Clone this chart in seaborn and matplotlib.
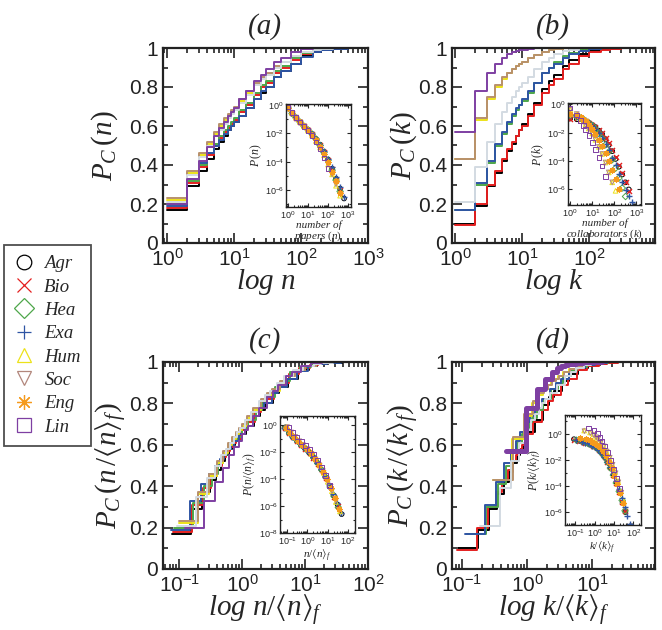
import numpy as np
import matplotlib
matplotlib.use("Agg")
import matplotlib.pyplot as plt
import matplotlib.ticker as mticker
from matplotlib.lines import Line2D
import seaborn as sns

sns.set_style("ticks")
plt.rcParams["font.family"] = ["Liberation Sans", "DejaVu Sans"]
plt.rcParams["mathtext.fontset"] = "custom"
plt.rcParams["mathtext.rm"] = "Liberation Serif"
plt.rcParams["mathtext.it"] = "Liberation Serif:italic"
plt.rcParams["mathtext.bf"] = "Liberation Serif:bold"
plt.rcParams["mathtext.fallback"] = "stix"

# fields of knowledge
fields = ["Agr", "Bio", "Hea", "Exa", "Hum", "Soc", "Eng", "Lin"]

# mean number of papers / collaborators per field (used for rescaled panels)
mean_papers = [13, 12.5, 12, 13.5, 10, 10, 11, 8]
mean_collab = [11.5, 12, 8.5, 9, 3.4, 3.3, 5.3, 2.1]

# cumulative distributions, evaluated on this grid of n (or k)
grid = [1, 2, 3, 4, 5, 6, 7, 8, 9, 10, 12, 15, 20, 25, 30, 40, 50, 70, 100, 150, 200, 300, 500]

# (a) P_C(n), number of papers
pcn_agr = [.17, .29, .37, .43, .48, .52, .55, .58, .60, .62, .65, .69, .74, .77, .80, .85, .88, .92, .96, .98, .99, .997, 1]
pcn_bio = [.18, .31, .39, .45, .50, .54, .57, .59, .61, .63, .67, .71, .76, .80, .82, .87, .90, .94, .97, .985, .993, .998, 1]
pcn_hea = [.20, .32, .40, .46, .51, .55, .58, .60, .62, .64, .68, .72, .77, .81, .83, .88, .91, .95, .975, .99, .995, 1]
pcn_exa = [.19, .33, .41, .46, .50, .53, .56, .58, .60, .62, .65, .69, .74, .78, .80, .85, .88, .92, .955, .98, .99, .997, 1]
pcn_hum = [.22, .36, .45, .51, .56, .60, .63, .65, .67, .69, .73, .77, .81, .84, .86, .90, .93, .96, .98, .993, 1]
pcn_soc = [.23, .37, .46, .52, .57, .61, .64, .66, .68, .70, .74, .78, .82, .85, .87, .91, .93, .96, .98, .993, .998, 1]
pcn_eng = [.21, .35, .44, .50, .55, .58, .61, .64, .66, .68, .72, .76, .81, .84, .86, .90, .93, .96, .98, .99, .997, 1]
pcn_lin = [.20, .33, .42, .49, .55, .59, .62, .65, .67, .69, .74, .78, .83, .86, .89, .93, .95, .98, .995, 1]

# (b) P_C(k), number of collaborators
pck_agr = [.10, .19, .29, .36, .42, .47, .51, .55, .58, .61, .66, .72, .79, .83, .86, .91, .94, .97, .985, .995, .998, 1]
pck_bio = [.09, .20, .30, .37, .43, .48, .52, .55, .58, .60, .65, .71, .77, .81, .84, .89, .92, .96, .98, .99, .995, .999, 1]
pck_hea = [.17, .30, .41, .50, .56, .61, .65, .68, .71, .73, .77, .82, .87, .90, .93, .96, .975, .99, .996, 1]
pck_exa = [.17, .31, .42, .51, .57, .62, .66, .69, .71, .74, .78, .82, .87, .90, .92, .95, .97, .985, .993, .998, 1]
pck_hum = [.43, .63, .74, .80, .84, .87, .89, .91, .92, .93, .95, .965, .98, .99, .995, 1]
pck_soc = [.43, .64, .75, .81, .85, .87, .89, .91, .92, .93, .95, .965, .98, .99, .995, 1]
pck_eng = [.21, .39, .52, .61, .67, .72, .75, .78, .80, .82, .85, .89, .93, .95, .97, .985, .99, 1]
pck_lin = [.57, .78, .87, .92, .95, .97, .98, .985, .99, .99, .995, .998, .999, .9995, 1]

# inset (a)/(c): log10 P(n) on log bins of n
n_bins = [1, 1.6, 2.5, 4, 6.3, 10, 16, 25, 40, 63, 100, 160, 250, 400, 630]
pn_agr = [-0.2, -0.6, -0.9, -1.2, -1.5, -1.75, -2.05, -2.4, -2.8, -3.3, -3.85, -4.5, -5.2, -5.9, -6.6]
pn_bio = [-0.2, -0.6, -0.9, -1.2, -1.5, -1.75, -2.05, -2.45, -2.85, -3.35, -3.9, -4.55, -5.3, -6.0]
pn_hea = [-0.2, -0.6, -0.9, -1.2, -1.5, -1.75, -2.05, -2.4, -2.85, -3.35, -3.9, -4.6, -5.3, -6.1]
pn_exa = [-0.2, -0.6, -0.9, -1.2, -1.5, -1.75, -2.05, -2.4, -2.8, -3.25, -3.8, -4.4, -5.1, -5.8, -6.5]
pn_hum = [-0.15, -0.55, -0.88, -1.2, -1.5, -1.8, -2.15, -2.55, -3.0, -3.55, -4.2, -4.9, -5.7, -6.4]
pn_soc = [-0.15, -0.55, -0.88, -1.2, -1.5, -1.8, -2.15, -2.55, -3.0, -3.55, -4.2, -4.9, -5.6]
pn_eng = [-0.2, -0.6, -0.9, -1.2, -1.5, -1.78, -2.1, -2.5, -2.95, -3.45, -4.0, -4.7, -5.4, -6.2]
pn_lin = [-0.15, -0.55, -0.88, -1.2, -1.5, -1.8, -2.15, -2.6, -3.1, -3.75, -4.5]

# inset (b): log10 P(k) on log bins of k
k_bins = [1, 2, 3, 4, 5, 7, 10, 14, 20, 28, 40, 56, 80, 113, 160, 226, 320, 450, 640]
pk_agr = [-1.0, -1.05, -1.0, -1.15, -1.2, -1.3, -1.45, -1.6, -1.85, -2.1, -2.45, -2.85, -3.3, -3.85, -4.4, -4.95, -5.5, -6.0]
pk_bio = [-1.05, -0.95, -1.0, -1.15, -1.2, -1.3, -1.45, -1.6, -1.8, -2.05, -2.35, -2.75, -3.2, -3.7, -4.25, -4.85, -5.45, -6.1]
pk_hea = [-0.77, -0.89, -0.96, -1.05, -1.15, -1.3, -1.5, -1.75, -2.05, -2.4, -2.85, -3.35, -3.9, -4.5, -5.2, -5.9, -6.5]
pk_exa = [-0.77, -0.85, -0.96, -1.05, -1.15, -1.3, -1.5, -1.75, -2.05, -2.4, -2.8, -3.25, -3.75, -4.3, -4.9, -5.5, -6.05, -6.5, -6.9]
pk_hum = [-0.37, -0.7, -1.0, -1.2, -1.4, -1.7, -2.05, -2.5, -3.0, -3.5, -4.1, -4.8, -5.5, -6.1]
pk_soc = [-0.37, -0.68, -0.96, -1.22, -1.45, -1.75, -2.1, -2.5, -3.0, -3.5, -4.1, -4.8, -5.5]
pk_eng = [-0.67, -0.75, -0.9, -1.05, -1.2, -1.45, -1.75, -2.1, -2.5, -2.95, -3.45, -4.0, -4.6, -5.3, -6.0]
pk_lin = [-0.24, -0.75, -1.15, -1.5, -1.75, -2.2, -2.7, -3.2, -3.75, -4.35, -5.1]

# inset (d): log10 P(k/<k>) on the same k bins
pkd_agr = [-0.37, -0.5, -0.57, -0.63, -0.68, -0.76, -0.88, -1.02, -1.2, -1.45, -1.75, -2.1, -2.6, -3.2, -3.85, -4.5, -5.3, -6.0]
pkd_bio = [-0.4, -0.5, -0.57, -0.63, -0.68, -0.76, -0.88, -1.0, -1.18, -1.42, -1.72, -2.1, -2.55, -3.1, -3.75, -4.45, -5.2, -5.9]
pkd_hea = [-0.45, -0.55, -0.63, -0.7, -0.77, -0.88, -1.0, -1.2, -1.45, -1.75, -2.15, -2.6, -3.15, -3.75, -4.4, -5.1, -5.9]
pkd_exa = [-0.45, -0.55, -0.63, -0.7, -0.77, -0.88, -1.0, -1.2, -1.45, -1.72, -2.1, -2.55, -3.05, -3.6, -4.2, -4.9, -5.6, -6.3, -6.9]
pkd_hum = [0.3, 0.15, 0.0, -0.2, -0.35, -0.6, -0.9, -1.3, -1.75, -2.3, -2.9, -3.6, -4.4, -5.2]
pkd_soc = [0.25, 0.1, -0.05, -0.22, -0.38, -0.62, -0.92, -1.32, -1.8, -2.35, -3.0, -3.7, -4.5]
pkd_eng = [-0.3, -0.35, -0.45, -0.55, -0.65, -0.8, -1.0, -1.3, -1.65, -2.1, -2.6, -3.2, -3.85, -4.55, -5.3]
pkd_lin = [0.5, 0.3, 0.05, -0.25, -0.5, -0.9, -1.4, -2.0, -2.7, -3.4, -4.2]

pcn = dict(zip(fields, [pcn_agr, pcn_bio, pcn_hea, pcn_exa, pcn_hum, pcn_soc, pcn_eng, pcn_lin]))
pck = dict(zip(fields, [pck_agr, pck_bio, pck_hea, pck_exa, pck_hum, pck_soc, pck_eng, pck_lin]))
pn = dict(zip(fields, [pn_agr, pn_bio, pn_hea, pn_exa, pn_hum, pn_soc, pn_eng, pn_lin]))
pk = dict(zip(fields, [pk_agr, pk_bio, pk_hea, pk_exa, pk_hum, pk_soc, pk_eng, pk_lin]))
pkd = dict(zip(fields, [pkd_agr, pkd_bio, pkd_hea, pkd_exa, pkd_hum, pkd_soc, pkd_eng, pkd_lin]))
mn = dict(zip(fields, mean_papers))
mk = dict(zip(fields, mean_collab))

colors = {"Agr": "#000000", "Bio": "#e41f1f", "Hea": "#4ea64a", "Exa": "#2f55a4",
          "Hum": "#ece21a", "Soc": "#b2877c", "Eng": "#f59a1c", "Lin": "#7e3fa2"}
line_colors = dict(colors, Soc="#b8906c", Eng="#d3dbe2")
markers = {"Agr": "o", "Bio": "x", "Hea": "D", "Exa": "+", "Hum": "^",
           "Soc": "v", "Eng": (8, 2, 0), "Lin": "s"}
filled = {"o", "D", "^", "v", "s"}

W, H = 662, 630
fig = plt.figure(figsize=(W / 100, H / 100), dpi=100)


def px_axes(left, top, right, bottom):
    return fig.add_axes([left / W, 1 - bottom / H, (right - left) / W, (bottom - top) / H])


def style_main(ax, xlim, xlabel, ylabel, title, ylab_x):
    ax.set_xscale("log")
    ax.set_xlim(*xlim)
    ax.set_ylim(0, 1)
    ax.yaxis.set_major_locator(mticker.MultipleLocator(0.2))
    ax.yaxis.set_minor_locator(mticker.MultipleLocator(0.1))
    ax.yaxis.set_major_formatter(mticker.FuncFormatter(lambda v, p: f"{v:g}"))
    ax.xaxis.set_major_locator(mticker.LogLocator(base=10, numticks=10))
    ax.xaxis.set_minor_locator(mticker.LogLocator(base=10, subs=np.arange(2, 10), numticks=10))
    ax.xaxis.set_minor_formatter(mticker.NullFormatter())
    ax.tick_params(which="both", direction="in", top=True, right=True, labelsize=15, width=1.2, colors="#222222")
    ax.tick_params(which="major", length=7)
    ax.tick_params(which="minor", length=3.5)
    for s in ax.spines.values():
        s.set_linewidth(1.6)
        s.set_color("#222222")
    ax.set_xlabel(xlabel, fontsize=21, labelpad=-2)
    ax.set_ylabel(ylabel, fontsize=21)
    ax.yaxis.set_label_coords(ylab_x, 0.5)
    ax.set_title(title, fontfamily="Liberation Serif", fontstyle="italic", fontsize=21, pad=10)


def style_inset(ax, xlim, ylim, xticks, yticks, xlabel, ylabel):
    ax.set_xscale("log")
    ax.set_yscale("log")
    ax.set_xlim(*xlim)
    ax.set_ylim(*ylim)
    ax.xaxis.set_major_locator(mticker.FixedLocator(xticks))
    ax.xaxis.set_minor_locator(mticker.LogLocator(base=10, subs=np.arange(2, 10), numticks=20))
    ax.yaxis.set_major_locator(mticker.FixedLocator(yticks))
    ax.yaxis.set_minor_locator(mticker.LogLocator(base=10, subs=(1.0,), numticks=20))
    ax.xaxis.set_minor_formatter(mticker.NullFormatter())
    ax.yaxis.set_minor_formatter(mticker.NullFormatter())
    ax.tick_params(which="both", direction="in", top=True, right=True, labelsize=6.5, width=0.8, pad=1.5)
    ax.tick_params(which="major", length=3)
    ax.tick_params(which="minor", length=1.6)
    for s in ax.spines.values():
        s.set_linewidth(1.0)
        s.set_color("#222222")
    ax.set_xlabel(xlabel, fontsize=8, labelpad=0, linespacing=0.9)
    ax.set_ylabel(ylabel, fontsize=8.5, labelpad=0.5)


def draw_steps(ax, data, scale=None, lw_lin=1.4):
    for f in fields:
        y = data[f]
        x = np.array(grid[:len(y)], dtype=float)
        if scale is not None:
            x = x / scale[f]
        sns.lineplot(x=x, y=y, drawstyle="steps-post", estimator=None, color=line_colors[f],
                     lw=lw_lin if f == "Lin" else 1.4, ax=ax, legend=False)


def draw_points(ax, bins, data, scale=None):
    for f in fields:
        v = data[f]
        x = np.array(bins[:len(v)], dtype=float)
        if scale is not None:
            x = x / scale[f]
        y = 10.0 ** np.array(v)
        m = markers[f]
        if m in filled:
            sns.scatterplot(x=x, y=y, marker=m, s=11, facecolor="none", edgecolor=colors[f],
                            linewidth=0.7, ax=ax, legend=False)
        else:
            sns.scatterplot(x=x, y=y, marker=m, s=13, color=colors[f], linewidth=1.0,
                            ax=ax, legend=False)


# main panels
ax_a = px_axes(163, 48, 368, 243)
ax_b = px_axes(452, 48, 655, 243)
ax_c = px_axes(163, 362, 368, 569)
ax_d = px_axes(452, 362, 655, 569)

draw_steps(ax_a, pcn)
draw_steps(ax_b, pck)
draw_steps(ax_c, pcn, scale=mn)
draw_steps(ax_d, pck, scale=mk, lw_lin=3.6)

style_main(ax_a, (0.87, 1000), r"$log\ n$", r"$P_C\,(n)$", "(a)", -0.21)
style_main(ax_b, (0.9, 950), r"$log\ k$", r"$P_C\,(k)$", "(b)", -0.165)
style_main(ax_c, (0.055, 100), r"$log\ n/\langle n\rangle_f$", r"$P_C\,(n\,/\langle n\rangle_f)$", "(c)", -0.165)
style_main(ax_d, (0.07, 92), r"$log\ k/\langle k\rangle_f$", r"$P_C\,(k\,/\langle k\rangle_f)$", "(d)", -0.155)

# insets
in_a = px_axes(286, 104, 351, 207)
in_b = px_axes(568, 103, 641, 205)
in_c = px_axes(280, 416, 355, 533)
in_d = px_axes(565, 415, 641, 525)

draw_points(in_a, n_bins, pn)
draw_points(in_b, k_bins, pk)
draw_points(in_c, n_bins, pn, scale=mn)
draw_points(in_d, k_bins, pkd, scale=mk)

style_inset(in_a, (0.8, 1400), (10 ** -7.2, 10 ** 0.07), [1, 10, 100, 1000], [1, 1e-2, 1e-4, 1e-6],
            "number of\npapers $(n)$", r"$P\,(n)$")
style_inset(in_b, (0.8, 1600), (10 ** -7.1, 10 ** 0.1), [1, 10, 100, 1000], [1, 1e-2, 1e-4, 1e-6],
            "number of\ncollaborators $(k)$", r"$P\,(k)$")
style_inset(in_c, (0.045, 220), (1e-8, 10 ** 0.67), [0.1, 1, 10, 100], [1, 1e-2, 1e-4, 1e-6, 1e-8],
            r"$n/\langle n\rangle_f$", r"$P(n/\langle n\rangle_f)$")
style_inset(in_d, (0.03, 250), (10 ** -7, 10 ** 1.5), [0.1, 1, 10, 100], [1, 1e-2, 1e-4, 1e-6],
            r"$k/\langle k\rangle_f$", r"$P(k/\langle k\rangle_f)$")
for ax in (in_a, in_b):
    ax.xaxis.label.set_fontfamily("Liberation Serif")
    ax.xaxis.label.set_fontstyle("italic")

# legend
handles = []
for f in fields:
    m = markers[f]
    handles.append(Line2D([], [], linestyle="none", marker=m, markersize=10.5, markeredgewidth=0.9,
                          markerfacecolor="none" if m in filled else colors[f],
                          markeredgecolor=colors[f], label=f))
leg = fig.legend(handles=handles, loc="upper left", bbox_to_anchor=(4 / W, 1 - 245 / H),
                 frameon=True, fancybox=False, edgecolor="#222222",
                 prop={"family": "Liberation Serif", "style": "italic", "size": 13.5},
                 handlelength=1.0, handletextpad=0.6, labelspacing=0.33, borderpad=0.55,
                 borderaxespad=0)
leg.get_frame().set_linewidth(1.3)

fig.savefig("out.png", dpi=100)
